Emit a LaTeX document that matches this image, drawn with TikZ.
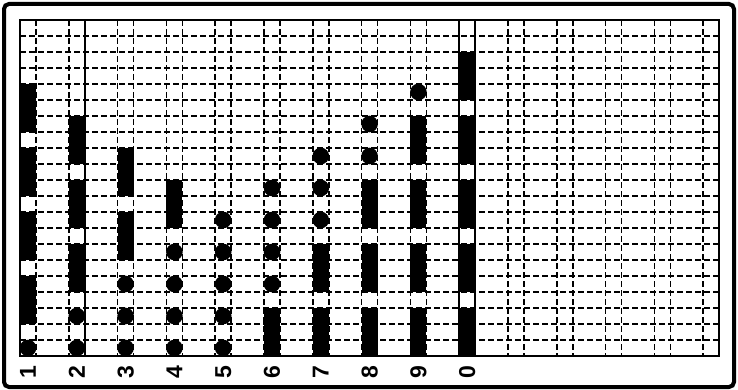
\documentclass[tikz,border=0pt]{standalone}
\usepackage{fontspec}
\setmainfont{Liberation Sans}

\begin{document}
\begin{tikzpicture}[x=1pt,y=-1pt,
  grid/.style={line width=1.7pt,dash pattern=on 6pt off 3pt},
  edge/.style={line width=1.8pt},
  frame/.style={line width=4pt,rounded corners=5pt},
  hole/.style={fill=black},
  lab/.style={font=\fontsize{23}{23}\selectfont\bfseries,rotate=90}]
\useasboundingbox (0,0) rectangle (738,390);

%% outer frame
\draw[frame] (4,4) rectangle (734,387);

%% dashed grid
\foreach \j in {1,...,20} \draw[grid] (20,{20+16*\j}) -- (719.2,{20+16*\j});
\foreach \k in {0,...,14} {
  \draw[grid] ({20+48.8*\k},20) -- ++(0,336);
  \draw[grid] ({36+48.8*\k},20) -- ++(0,336);
}
\foreach \x in {84.8,459.2,475.2} \draw[edge] (\x,20) -- (\x,356);
\draw[edge] (20,20) rectangle (719.2,356);

%% bars (three cells high)
\foreach \k/\a in {0/4,0/8,0/12,0/16, 1/6,1/10,1/14, 2/8,2/12, 3/10,
  5/18, 6/14,6/18, 7/10,7/14,7/18, 8/6,8/10,8/14,8/18,
  9/2,9/6,9/10,9/14,9/18}
  \fill[hole] ({20+48.8*\k},{20+16*\a}) rectangle ++(16,48);

%% dots
\foreach \k/\r in {0/20, 1/18,1/20, 2/16,2/18,2/20, 3/14,3/16,3/18,3/20,
  4/12,4/14,4/16,4/18,4/20, 5/10,5/12,5/14,5/16, 6/8,6/10,6/12,
  7/6,7/8, 8/4}
  \fill[hole] ({28+48.8*\k},{28+16*\r}) circle (8.3);

%% digits
\foreach \k/\d in {0/1,1/2,2/3,3/4,4/5,5/6,6/7,7/8,8/9,9/0}
  \node[lab] (d\k) at ({28+48.8*\k},372) {\d};
\end{tikzpicture}
\end{document}
